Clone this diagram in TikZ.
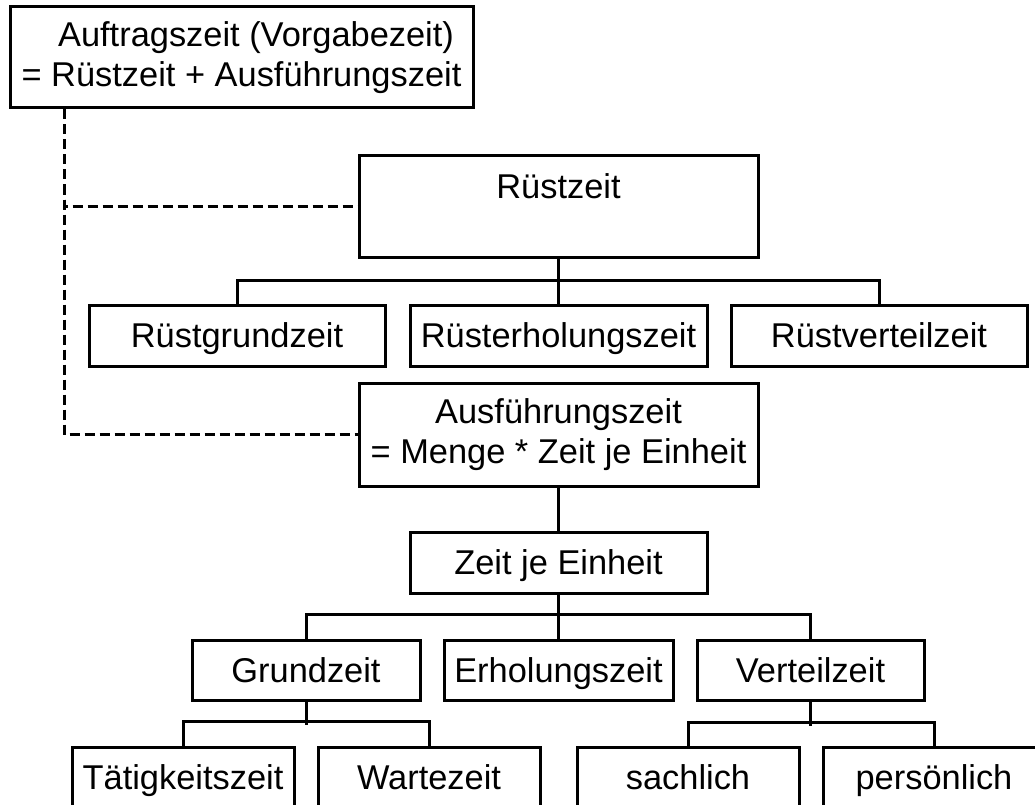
\documentclass[tikz,border=0pt]{standalone}
\usepackage{fontspec}
\setmainfont{Liberation Sans}
\begin{document}
\begin{tikzpicture}[x=1pt,y=-1pt,
  box/.style={draw, line width=3pt, inner sep=0pt, align=center,
    font=\fontsize{34.4}{40}\selectfont},
  onebox/.style={box, text height=32pt, text depth=7.4pt},
  link/.style={line width=3pt},
  dashlink/.style={line width=3pt, dash pattern=on 10pt off 5pt}]
\clip (0,0) rectangle (1035,805);

% top level
\node[box, minimum width=463, minimum height=101] (auf) at (241.5,57.5)
  {\hspace*{29pt}Auftragszeit (Vorgabezeit)\\= Rüstzeit + Ausführungszeit};
\node[box, minimum width=399, minimum height=101] (rz) at (558.5,206.5) {Rüstzeit\\ \mbox{}};
\node[onebox, minimum width=296, minimum height=61] (rgz) at (237,335.5) {Rüstgrundzeit};
\node[onebox, minimum width=297, minimum height=61] (rez) at (558.5,335.5) {Rüsterholungszeit};
\node[onebox, minimum width=296, minimum height=61] (rvz) at (879,335.5) {Rüstverteilzeit};
\node[box, minimum width=399, minimum height=103] (af) at (558.5,434.5)
  {Ausführungszeit\\= Menge * Zeit je Einheit};
\node[onebox, minimum width=297, minimum height=61] (zje) at (558.5,562.5) {Zeit je Einheit};

% Zeit je Einheit
\node[onebox, minimum width=228, minimum height=60] (gz) at (306,670) {Grundzeit};
\node[onebox, minimum width=229, minimum height=60] (ez) at (558.5,670) {Erholungszeit};
\node[onebox, minimum width=227, minimum height=60] (vz) at (810.5,670) {Verteilzeit};

% bottom row
\node[onebox, minimum width=222, minimum height=60] (tz) at (183,777) {Tätigkeitszeit};
\node[onebox, minimum width=222, minimum height=60] (wz) at (429,777) {Wartezeit};
\node[onebox, minimum width=222, minimum height=60] (sz) at (688,777) {sachlich};
\node[onebox, minimum width=222, minimum height=60] (pz) at (934,777) {persönlich};

% dashed links
\draw[dashlink] (auf.south west) ++(56,0) |- (rz.west);
\draw[dashlink] (auf.south west) ++(56,0) |- (af.west);

% tree links
\draw[link] (rz.south) -- (rez.north);
\draw[link] (rgz.north) -- ++(0,-23) -| (rvz.north);
\draw[link] (af.south) -- (zje.north);
\draw[link] (zje.south) -- (ez.north);
\draw[link] (gz.north) -- ++(0,-24) -| (vz.north);
\draw[link] (gz.south) -- ++(0,23);
\draw[link] (tz.north) -- ++(0,-24) -| (wz.north);
\draw[link] (vz.south) -- ++(0,24);
\draw[link] (sz.north) -- ++(0,-23) -| (pz.north);

\end{tikzpicture}
\end{document}
